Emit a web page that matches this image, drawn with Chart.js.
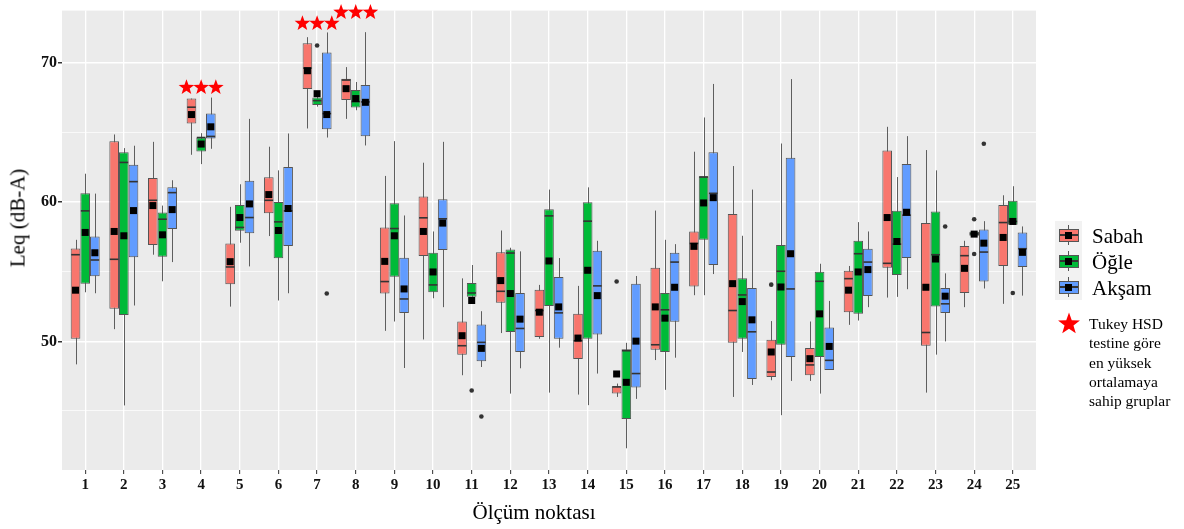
<!DOCTYPE html>
<html><head><meta charset="utf-8">
<script src="https://cdn.jsdelivr.net/npm/chart.js@4.4.0/dist/chart.umd.min.js"></script>
<style>
body{margin:0;background:#fff;}
#wrap{position:relative;width:1184px;height:529px;overflow:hidden;}
#c{position:absolute;left:0;top:0;}
.t{position:absolute;font-family:"Liberation Serif","Times New Roman",serif;color:#000;white-space:nowrap;line-height:1;}
.key{position:absolute;left:1055px;width:27px;height:26px;}
.wh{position:absolute;left:13px;width:1px;top:3px;height:20px;background:#555;}
.bx{position:absolute;left:4px;width:18px;top:6.5px;height:11px;border:1px solid #555;}
.md{position:absolute;left:5px;width:18px;top:12px;height:1.5px;background:#333;}
.mn{position:absolute;left:10px;top:9.5px;width:7px;height:7px;background:#000;}
</style></head>
<body><div id="wrap">
<canvas id="c" width="1184" height="529"></canvas>
<div class="t" id="ytitle" style="left:18px;top:218px;font-size:21px;transform:translate(-50%,-50%) rotate(-90deg);">Leq (dB-A)</div>
<div class="t" id="xtitle" style="left:534px;top:502px;font-size:21px;transform:translateX(-50%);">Ölçüm noktası</div>
<div style="position:absolute;left:1055px;top:221px;width:27px;height:79px;background:#F2F2F2;"></div>
<div id="legend"></div>
<svg style="position:absolute;left:1056px;top:311px;" width="26" height="24" viewBox="-13 -12 26 24"><polygon id="lstar" fill="#FF0000"/></svg>
<div class="t" style="left:1089px;top:314px;font-size:15.5px;line-height:19.3px;">Tukey HSD<br>testine göre<br>en yüksek<br>ortalamaya<br>sahip gruplar</div>
</div>
<script>
const categories = ['1','2','3','4','5','6','7','8','9','10','11','12','13','14','15','16','17','18','19','20','21','22','23','24','25'];
const seriesNames = ['Sabah','Öğle','Akşam'];
const seriesColors = ['#F8766D','#00BA38','#619CFF'];
const yTickValues = [45,50,55,60,65,70];
const yTickLabels = [50,60,70];

// Sabah
const sabahLow  = [48.35,50.88,56.23,63.41,52.50,57.57,65.30,65.99,50.76,50.14,47.57,50.60,50.19,46.18,46.01,48.66,53.32,46.01,47.21,47.16,51.19,53.15,46.32,52.46,52.70];
const sabahQ1   = [50.19,52.34,56.92,65.66,54.10,59.21,68.14,67.35,53.44,56.13,49.05,52.77,50.31,48.74,46.25,49.40,53.94,49.90,47.45,47.57,52.10,55.30,49.69,53.48,55.42];
const sabahMed  = [56.23,55.90,60.14,66.83,55.35,60.14,69.64,68.78,54.30,58.88,49.69,53.60,52.22,50.05,46.73,49.76,57.04,52.22,47.80,48.31,54.51,55.61,50.64,56.16,58.54];
const sabahQ3   = [56.68,64.39,61.74,67.45,57.04,61.79,71.43,68.88,58.19,60.41,51.43,56.40,53.72,51.98,46.78,55.30,57.90,59.16,50.12,49.52,55.08,63.72,58.50,56.85,59.81];
const sabahHigh = [57.30,64.87,64.34,67.45,59.67,63.99,71.86,69.71,61.89,62.84,54.53,57.97,54.06,53.99,46.97,59.40,63.63,62.60,51.46,51.43,55.42,65.42,63.75,57.23,60.50];
const sabahMean = [53.68,57.90,59.76,66.30,55.73,60.55,69.45,68.16,55.75,57.90,50.41,54.37,52.10,50.24,47.66,52.48,56.83,54.15,49.24,48.76,53.68,58.90,53.89,55.25,57.47];
const sabahOutliers = {15:[54.30], 19:[54.08]};

// Öğle
const ogleLow  = [53.53,45.40,54.32,62.74,57.09,52.94,66.87,66.61,51.43,53.10,53.20,46.25,46.32,45.42,42.32,46.52,53.32,49.24,44.70,46.25,51.50,53.20,49.05,57.59,58.38];
const ogleQ1   = [54.15,51.89,56.09,63.65,57.95,55.97,66.99,66.80,54.65,53.53,53.20,50.67,52.55,50.19,44.42,49.24,57.30,50.19,49.76,48.88,51.98,54.77,52.51,57.59,58.38];
const ogleMed  = [59.38,62.86,58.78,64.65,58.19,58.59,67.30,67.23,58.11,54.06,53.48,56.35,59.02,58.64,49.33,52.27,61.81,53.34,55.04,54.32,56.30,56.99,56.23,57.73,58.62];
const ogleQ3   = [60.64,63.60,59.26,64.65,59.81,60.02,67.52,68.07,59.93,56.37,54.20,56.61,59.50,60.00,49.43,53.48,61.86,54.53,56.92,55.01,57.23,59.38,59.33,57.88,60.10];
const ogleHigh = [62.05,63.89,59.76,64.96,61.29,62.29,67.57,68.64,64.39,57.90,55.49,56.73,60.91,61.07,49.90,57.30,66.09,57.59,64.22,55.58,58.57,61.81,62.29,57.88,61.15];
const ogleMean = [57.83,57.59,57.66,64.18,58.90,57.97,67.80,67.45,57.59,54.99,52.94,53.44,55.78,55.11,47.06,51.67,59.95,52.86,53.91,51.98,54.99,57.18,55.92,57.71,58.62];
const ogleOutliers = {7:[71.26], 11:[46.47], 24:[58.78,56.28], 25:[53.48]};

// Akşam
const aksamLow  = [53.46,52.58,55.70,63.84,55.39,53.46,64.65,64.08,48.09,52.46,48.16,48.07,49.55,47.69,45.87,48.83,54.84,46.87,47.16,47.95,52.46,53.75,50.00,53.80,53.29];
const aksamQ1   = [54.68,56.04,58.07,64.58,57.78,56.85,65.25,64.75,52.05,56.56,48.57,49.24,50.19,50.50,46.68,51.41,55.49,47.30,48.88,47.95,53.27,55.99,52.05,54.30,55.35];
const aksamMed  = [55.85,61.48,60.69,64.73,58.90,59.38,66.37,67.21,53.05,58.81,49.93,50.93,52.05,53.99,47.69,55.70,60.64,50.69,53.77,48.64,55.70,59.07,52.70,56.42,56.66];
const aksamQ3   = [57.54,62.70,61.07,66.37,61.55,62.53,70.76,68.42,56.01,60.21,51.22,53.48,54.63,56.52,54.15,56.37,63.60,53.84,63.20,51.00,56.66,62.74,53.84,58.04,57.83];
const aksamHigh = [60.62,64.06,61.58,67.52,65.99,64.94,72.20,72.22,59.05,64.34,52.17,56.47,55.99,57.23,54.70,56.99,68.50,60.91,68.85,52.91,57.90,64.75,54.89,58.64,58.26];
const aksamMean = [56.37,59.40,59.47,65.42,59.88,59.55,66.30,67.18,53.77,58.50,49.50,51.60,52.48,53.29,50.02,53.89,60.33,51.55,56.30,49.64,55.16,59.28,53.25,57.06,56.40];
const aksamOutliers = {7:[53.44], 11:[44.60], 23:[58.26], 24:[64.20]};

// Tukey HSD stars
const starGroups = [4,7,8];
const starLevels = [68.25,72.85,73.65];

const groups = categories.map(Number);
const stats = [
  {low:sabahLow, q1:sabahQ1, med:sabahMed, q3:sabahQ3, high:sabahHigh, mean:sabahMean, out:sabahOutliers},
  {low:ogleLow, q1:ogleQ1, med:ogleMed, q3:ogleQ3, high:ogleHigh, mean:ogleMean, out:ogleOutliers},
  {low:aksamLow, q1:aksamQ1, med:aksamMed, q3:aksamQ3, high:aksamHigh, mean:aksamMean, out:aksamOutliers}
];

function starPath(ctx, cx, cy, R, r){
  ctx.beginPath();
  for(let k=0;k<10;k++){
    const a = -Math.PI/2 + k*Math.PI/5;
    const rr = k%2===0 ? R : r;
    const px = cx + rr*Math.cos(a), py = cy + rr*Math.sin(a);
    if(k===0) ctx.moveTo(px,py); else ctx.lineTo(px,py);
  }
  ctx.closePath();
}

const boxPlugin = {
  id:'boxExtras',
  beforeDraw(chart){
    const {ctx, chartArea:a} = chart;
    ctx.save(); ctx.fillStyle='#EBEBEB'; ctx.fillRect(a.left,a.top,a.right-a.left,a.bottom-a.top); ctx.restore();
  },
  beforeDatasetsDraw(chart){
    const ctx=chart.ctx, ys=chart.scales.y;
    ctx.save(); ctx.strokeStyle='#5e5e5e'; ctx.lineWidth=1;
    stats.forEach((s,di)=>{
      chart.getDatasetMeta(di).data.forEach((el,i)=>{
        const x=Math.round(el.x)+0.5;
        ctx.beginPath(); ctx.moveTo(x, ys.getPixelForValue(s.low[i])); ctx.lineTo(x, ys.getPixelForValue(s.high[i])); ctx.stroke();
      });
    });
    ctx.restore();
  },
  afterDatasetsDraw(chart){
    const ctx=chart.ctx, ys=chart.scales.y;
    ctx.save();
    stats.forEach((s,di)=>{
      chart.getDatasetMeta(di).data.forEach((el,i)=>{
        const hw=el.width/2, ym=ys.getPixelForValue(s.med[i]);
        ctx.strokeStyle='#333'; ctx.lineWidth=1.6;
        ctx.beginPath(); ctx.moveTo(el.x-hw+0.5, ym); ctx.lineTo(el.x+hw-0.5, ym); ctx.stroke();
        const outs = s.out[groups[i]] || [];
        ctx.fillStyle='#333';
        outs.forEach(v=>{ ctx.beginPath(); ctx.arc(el.x, ys.getPixelForValue(v), 2.3, 0, Math.PI*2); ctx.fill(); });
      });
    });
    stats.forEach((s,di)=>{
      chart.getDatasetMeta(di).data.forEach((el,i)=>{
        const yv=ys.getPixelForValue(s.mean[i]);
        ctx.fillStyle='#000'; ctx.fillRect(el.x-3.5, yv-3.5, 7, 7);
      });
    });
    ctx.restore();
  },
  afterDraw(chart){
    const ctx=chart.ctx, xs=chart.scales.x, ys=chart.scales.y;
    ctx.save(); ctx.fillStyle='#FF0000';
    starGroups.forEach((g,j)=>{
      [-0.38,0,0.38].forEach(d=>{
        starPath(ctx, xs.getPixelForValue(g+d), ys.getPixelForValue(starLevels[j]), 8.2, 3.4);
        ctx.fill();
      });
    });
    ctx.restore();
  }
};

const chart = new Chart(document.getElementById('c'), {
  type:'bar',
  data:{
    datasets: stats.map((s,di)=>({
      label: seriesNames[di],
      data: groups.map((g,i)=>({x:g, y:[s.q1[i], s.q3[i]]})),
      backgroundColor: seriesColors[di],
      borderColor:'#555',
      borderWidth:1,
      borderSkipped:false,
      inflateAmount:0,
      categoryPercentage:0.75,
      barPercentage:1
    }))
  },
  options:{
    responsive:false,
    animation:false,
    events:[],
    layout:{padding:{left:0,top:9,right:148,bottom:0}},
    plugins:{legend:{display:false}, tooltip:{enabled:false}},
    scales:{
      x:{
        type:'linear', min:0.4, max:25.6, offset:false,
        afterBuildTicks(scale){ scale.ticks = groups.map(v=>({value:v})); },
        afterFit(scale){ scale.height = 59; },
        border:{display:false},
        grid:{offset:false, color:'#FFFFFF', lineWidth:1.3, tickLength:4, tickColor:'#333', tickWidth:1},
        ticks:{autoSkip:false, maxRotation:0, padding:2, color:'#111',
          font:{family:'"Liberation Serif", serif', size:15, weight:'bold'},
          callback:(v)=>categories[groups.indexOf(v)]}
      },
      y:{
        type:'linear', min:40.76, max:73.77,
        afterBuildTicks(scale){ scale.ticks = yTickValues.map(v=>({value:v})); },
        afterFit(scale){ scale.width = 62; },
        border:{display:false},
        grid:{color:'#FFFFFF',
          lineWidth:(c)=> (c.tick && yTickLabels.includes(c.tick.value)) ? 1.5 : 0.7,
          tickLength:4,
          tickColor:(c)=> (c.tick && yTickLabels.includes(c.tick.value)) ? '#333' : 'rgba(0,0,0,0)'},
        ticks:{padding:1, color:'#111',
          font:{family:'"Liberation Serif", serif', size:16, weight:'bold'},
          callback:(v)=> yTickLabels.includes(v) ? String(v) : ''}
      }
    }
  },
  plugins:[boxPlugin]
});

// legend (HTML)
const lg=document.getElementById('legend');
seriesNames.forEach((n,i)=>{
  const top = 222 + i*26;
  const k=document.createElement('div'); k.className='key'; k.style.top=top+'px';
  k.innerHTML='<div class="wh"></div><div class="bx" style="background:'+seriesColors[i]+'"></div><div class="md"></div><div class="mn"></div>';
  lg.appendChild(k);
  const t=document.createElement('div'); t.className='t'; t.textContent=n;
  t.style.left='1092px'; t.style.top=(top+4)+'px'; t.style.fontSize='21px';
  lg.appendChild(t);
});
// legend star
(function(){
  const pts=[]; for(let k=0;k<10;k++){const a=-Math.PI/2+k*Math.PI/5; const r=k%2===0?11.5:4.7; pts.push((r*Math.cos(a)).toFixed(2)+','+(r*Math.sin(a)+1).toFixed(2));}
  document.getElementById('lstar').setAttribute('points', pts.join(' '));
})();
</script>
</body></html>
